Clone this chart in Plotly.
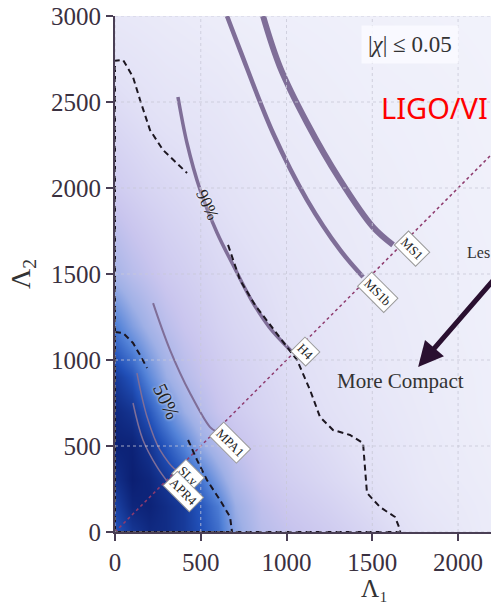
import plotly.graph_objects as go

# ---------------- data ----------------
# density grid (0 = background, 1 = darkest)
grid_l1 = [0, 100, 200, 300, 400, 500, 600, 700, 850, 1000, 1250, 1500, 1800, 2200]
grid_l2 = [0, 150, 300, 500, 700, 900, 1200, 1500, 2000, 2500, 3000]
density = [
    [0.85, 0.93, 0.97, 0.96, 0.92, 0.86, 0.78, 0.60, 0.45, 0.40, 0.34, 0.27, 0.17, 0.08],
    [0.90, 0.98, 0.99, 0.96, 0.92, 0.84, 0.74, 0.56, 0.42, 0.36, 0.30, 0.23, 0.14, 0.08],
    [0.95, 1.00, 0.98, 0.93, 0.86, 0.76, 0.62, 0.48, 0.37, 0.32, 0.26, 0.20, 0.12, 0.07],
    [0.99, 0.99, 0.94, 0.84, 0.72, 0.58, 0.48, 0.40, 0.33, 0.28, 0.23, 0.17, 0.11, 0.06],
    [0.97, 0.94, 0.84, 0.70, 0.56, 0.46, 0.39, 0.34, 0.29, 0.25, 0.20, 0.15, 0.10, 0.05],
    [0.92, 0.85, 0.70, 0.56, 0.46, 0.40, 0.35, 0.31, 0.27, 0.23, 0.18, 0.13, 0.09, 0.05],
    [0.74, 0.62, 0.52, 0.44, 0.38, 0.34, 0.30, 0.27, 0.24, 0.20, 0.16, 0.12, 0.08, 0.04],
    [0.52, 0.45, 0.40, 0.35, 0.32, 0.29, 0.26, 0.24, 0.21, 0.18, 0.14, 0.10, 0.07, 0.04],
    [0.34, 0.31, 0.28, 0.26, 0.24, 0.22, 0.20, 0.18, 0.15, 0.13, 0.10, 0.08, 0.05, 0.03],
    [0.23, 0.21, 0.19, 0.17, 0.16, 0.15, 0.14, 0.12, 0.10, 0.09, 0.07, 0.05, 0.04, 0.02],
    [0.13, 0.12, 0.11, 0.10, 0.09, 0.08, 0.07, 0.06, 0.05, 0.05, 0.04, 0.03, 0.02, 0.01],
]

# EOS curves (Lambda1, Lambda2)
ms1_l1 = [863, 962, 1120, 1312, 1504, 1621]
ms1_l2 = [3000, 2703, 2378, 2047, 1773, 1669]
ms1b_l1 = [653, 729, 921, 1120, 1312, 1446]
ms1b_l2 = [3000, 2802, 2320, 1930, 1640, 1483]
h4_l1 = [367, 420, 496, 595, 700, 800, 900, 1030]
h4_l2 = [2529, 2260, 1990, 1740, 1530, 1340, 1190, 1050]
mpa1_l1 = [222, 321, 437, 554, 590]
mpa1_l2 = [1331, 1058, 808, 610, 585]
sly_l1 = [128, 187, 262, 362, 385]
sly_l2 = [924, 669, 477, 360, 385]
apr4_l1 = [105, 163, 245, 300]
apr4_l2 = [750, 535, 378, 300]

# credible contours (None = gap for label)
c90_l1 = [0, 0, 47, 105, 146, 204, 280, 420, None, 659, 729, 816, 904, 991, 1061,
          1137, 1195, 1271, 1370, 1446, 1458, 1469, 1545, 1633, 1662, 1662, 0]
c90_l2 = [0, 2740, 2745, 2645, 2512, 2337, 2221, 2087, None, 1669, 1465, 1320, 1203, 1087, 1000,
          826, 669, 593, 564, 517, 378, 227, 145, 87, 12, 0, 0]
c50_l1 = [0, 0, 47, 105, 146, 187, None, 426, 478, 536, 612, 671, 682, 682, 0]
c50_l2 = [0, 1163, 1157, 1099, 1029, 953, None, 535, 419, 302, 186, 87, 12, 0, 0]

diag = [0, 2200]

eos_names = ["MS1", "MS1b", "H4", "MPA1", "SLy", "APR4"]
eos_label_l1 = [1732, 1534, 1108, 671, 426, 397]
eos_label_l2 = [1651, 1395, 1047, 523, 331, 233]

x_ticks = [0, 500, 1000, 1500, 2000]
y_ticks = [0, 500, 1000, 1500, 2000, 2500, 3000]

# ---------------- figure ----------------
colorscale = [
    [0.0, "#f2f3fb"],
    [0.2, "#e2e1f6"],
    [0.38, "#c9c5ee"],
    [0.55, "#9fb0e6"],
    [0.72, "#5483d8"],
    [0.86, "#2150b8"],
    [1.0, "#0b1f72"],
]

fig = go.Figure()
fig.add_trace(go.Heatmap(x=grid_l1, y=grid_l2, z=density, colorscale=colorscale,
                         zmin=0, zmax=1, zsmooth="best", showscale=False, hoverinfo="skip"))

# grid lines on top of the density
shapes = []
for v in x_ticks:
    shapes.append(dict(type="line", xref="x", yref="paper", x0=v, x1=v, y0=0, y1=1,
                       line=dict(color="rgba(200,200,215,0.8)", width=1, dash="dot"), layer="above"))
for v in y_ticks:
    shapes.append(dict(type="line", xref="paper", yref="y", x0=0, x1=1, y0=v, y1=v,
                       line=dict(color="rgba(200,200,215,0.8)", width=1, dash="dot"), layer="above"))

eos_col = "#7f6e98"
fig.add_trace(go.Scatter(x=diag, y=diag, mode="lines",
                         line=dict(color="#8e3b6e", width=1.5, dash="dot"), hoverinfo="skip"))
fig.add_trace(go.Scatter(x=ms1_l1, y=ms1_l2, mode="lines", line=dict(color=eos_col, width=6, shape="spline")))
fig.add_trace(go.Scatter(x=ms1b_l1, y=ms1b_l2, mode="lines", line=dict(color=eos_col, width=4.5, shape="spline")))
fig.add_trace(go.Scatter(x=h4_l1, y=h4_l2, mode="lines", line=dict(color=eos_col, width=3.5, shape="spline")))
fig.add_trace(go.Scatter(x=mpa1_l1, y=mpa1_l2, mode="lines", line=dict(color=eos_col, width=2, shape="spline")))
fig.add_trace(go.Scatter(x=sly_l1, y=sly_l2, mode="lines", line=dict(color=eos_col, width=1.5, shape="spline")))
fig.add_trace(go.Scatter(x=apr4_l1, y=apr4_l2, mode="lines", line=dict(color=eos_col, width=1.5, shape="spline")))

fig.add_trace(go.Scatter(x=c90_l1, y=c90_l2, mode="lines", connectgaps=False,
                         line=dict(color="#1c1620", width=2, dash="6px,4px")))
fig.add_trace(go.Scatter(x=c50_l1, y=c50_l2, mode="lines", connectgaps=False,
                         line=dict(color="#1c1620", width=2, dash="6px,4px")))

serif = "Liberation Serif"
ann = []
for n, lx, ly in zip(eos_names, eos_label_l1, eos_label_l2):
    ann.append(dict(x=lx, y=ly, xref="x", yref="y", text=n, showarrow=False, textangle=45,
                    xanchor="center", yanchor="middle",
                    font=dict(family=serif, size=13, color="#222"),
                    bgcolor="white", bordercolor="#999", borderwidth=1, borderpad=2))
ann.append(dict(x=542, y=1901, xref="x", yref="y", text="90%", showarrow=False, textangle=65,
                xanchor="center", yanchor="middle",
                font=dict(family=serif, size=17, color="#222", shadow="0px 0px 3px white")))
ann.append(dict(x=303, y=756, xref="x", yref="y", text="50%", showarrow=False, textangle=65,
                xanchor="center", yanchor="middle",
                font=dict(family=serif, size=20, color="#222", shadow="0px 0px 3px white")))
ann.append(dict(x=0.785, y=0.944, xref="paper", yref="paper", text="|<i>χ</i>| ≤ 0.05", showarrow=False,
                xanchor="center", yanchor="middle",
                font=dict(family=serif, size=23, color="#333"),
                bgcolor="rgba(250,250,255,0.85)", borderpad=6))
ann.append(dict(x=0.702, y=0.822, xref="paper", yref="paper", text="LIGO/VI", showarrow=False,
                xanchor="left", yanchor="middle", font=dict(family="Noto Sans", size=29, color="#ff0000")))
ann.append(dict(x=0.932, y=0.541, xref="paper", yref="paper", text="Les", showarrow=False,
                xanchor="left", yanchor="middle", font=dict(family=serif, size=16, color="#333")))
ann.append(dict(x=1662, y=878, xref="x", yref="y", text="More Compact", showarrow=False,
                xanchor="center", yanchor="middle",
                font=dict(family=serif, size=21, color="#333")))
ann.append(dict(x=1767, y=959, xref="x", yref="y", ax=2303, ay=1576, axref="x", ayref="y",
                text="", showarrow=True, arrowhead=2, arrowsize=1, arrowwidth=5,
                arrowcolor="#2a1030"))
ann.append(dict(x=0.691, y=-0.109, xref="paper", yref="paper", text="Λ₁", showarrow=False,
                xanchor="center", yanchor="middle",
                font=dict(family=serif, size=25, color="#333")))

axis_common = dict(showgrid=False, zeroline=False, showline=True, linecolor="#4a3f55", linewidth=2,
                   ticks="outside", ticklen=7, tickwidth=2, tickcolor="#4a3f55", automargin=False,
                   tickfont=dict(family=serif, size=25, color="#3a3040"), layer="above traces")

fig.update_layout(
    width=491, height=602,
    margin=dict(l=115, r=0, t=16, b=70),
    paper_bgcolor="white", plot_bgcolor="#f2f3fb",
    showlegend=False,
    xaxis=dict(range=[0, 2192], tickvals=x_ticks, **axis_common),
    yaxis=dict(range=[0, 3000], tickvals=y_ticks,
               title=dict(text="Λ<sub>2</sub>", font=dict(family=serif, size=28, color="#333"), standoff=12),
               **axis_common),
    shapes=shapes, annotations=ann,
)

fig.write_html("out.html", config={"displayModeBar": False},
               post_script="document.body.style.margin='0';document.body.style.overflow='hidden';")
